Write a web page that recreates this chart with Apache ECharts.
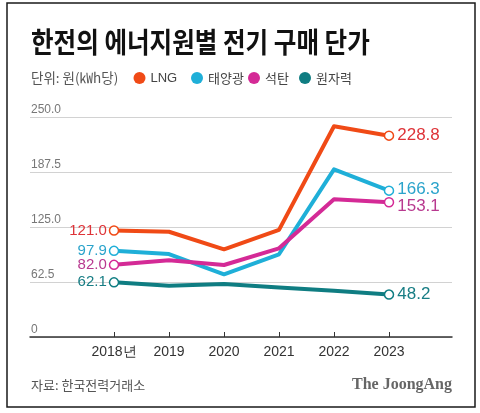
<!DOCTYPE html>
<html>
<head>
<meta charset="utf-8">
<script src="https://cdn.jsdelivr.net/npm/echarts@6/dist/echarts.min.js"></script>
<style>
html,body{margin:0;padding:0;background:#fff;}
#chart{width:480px;height:413px;}
</style>
</head>
<body>
<div id="chart"></div>
<script>
const years = [2018, 2019, 2020, 2021, 2022, 2023];
const xLabels = ['2018년', '2019', '2020', '2021', '2022', '2023'];
const yLabels = ['0', '62.5', '125.0', '187.5', '250.0'];
const seriesNames = ['LNG', '태양광', '석탄', '원자력'];
const lng = [121.0, 119.6, 99.6, 121.8, 239.5, 228.8];
const solar = [97.9, 94.2, 71.2, 94.0, 190.5, 166.3];
const coal = [82.0, 87.2, 81.8, 100.8, 156.5, 153.1];
const nuclear = [62.1, 58.3, 60.3, 56.2, 52.5, 48.2];
const title = '한전의 에너지원별 전기 구매 단가';
const unitText = '단위: 원(㎾h당)';
const sourceText = '자료: 한국전력거래소';
const logoText = 'The JoongAng';

const lineColors = ['#f04a16', '#1fafd8', '#d42a96', '#0f7d82'];
const labelColors = ['#de3338', '#2aa3cb', '#b8398f', '#177d84'];
const endOffsets = [[0, 0], [0, -1], [0, 4], [0, 0]];
const allValues = [lng, solar, coal, nuclear];

const KR = '"Noto Sans CJK KR", "Noto Sans", sans-serif';
const NUM = '"Liberation Sans", Arial, sans-serif';

function buildSeries(name, values, idx) {
  const last = values.length - 1;
  return {
    name: name,
    type: 'line',
    z: 2 + idx,
    lineStyle: { width: 4, color: lineColors[idx], join: 'round' },
    itemStyle: { color: '#fff', borderColor: lineColors[idx], borderWidth: 1.5 },
    symbol: 'circle',
    symbolSize: 9,
    emphasis: { disabled: true },
    data: values.map((v, i) => {
      const isEnd = (i === 0 || i === last);
      return {
        value: [years[i], v],
        symbol: isEnd ? 'circle' : 'none',
        label: {
          show: isEnd,
          position: i === 0 ? 'left' : 'right',
          distance: i === 0 ? 2 : 3,
          offset: i === 0 ? [0, 0] : endOffsets[idx],
          fontSize: i === 0 ? 15 : 17,
          fontFamily: NUM,
          color: labelColors[idx],
          formatter: (p) => p.value[1].toFixed(1)
        }
      };
    })
  };
}

const legendCenters = [139.5, 197, 254, 305];
const legendGraphics = [];
seriesNames.forEach((n, i) => {
  legendGraphics.push({
    type: 'circle', shape: { cx: legendCenters[i], cy: 78, r: 6 },
    style: { fill: lineColors[i] }
  });
  legendGraphics.push({
    type: 'text', x: legendCenters[i] + 11, y: 78,
    style: { text: n, fill: '#444', font: '13px ' + (i === 0 ? NUM : KR), textVerticalAlign: 'middle', textAlign: 'left' }
  });
});

const chart = echarts.init(document.getElementById('chart'), null, { renderer: 'canvas' });
chart.setOption({
  animation: false,
  backgroundColor: '#fff',
  grid: { left: 30, right: 28, top: 117, bottom: 76, containLabel: false },
  xAxis: {
    type: 'value',
    min: 2018 - 84 / 55,
    max: 2023 + 63 / 55,
    splitLine: { show: false },
    axisLine: { show: true, lineStyle: { color: '#333', width: 1.5 } },
    axisTick: { show: true, inside: true, length: 5, customValues: years, lineStyle: { color: '#333', width: 1 } },
    axisLabel: {
      customValues: years, margin: 8, fontSize: 14, fontFamily: NUM, color: '#333',
      formatter: (v) => xLabels[years.indexOf(Math.round(v))] || ''
    }
  },
  yAxis: {
    type: 'value',
    min: 0, max: 250, interval: 62.5,
    axisLine: { show: false },
    axisTick: { show: false },
    splitLine: { show: true, lineStyle: { color: '#d2d2d2', width: 1 } },
    axisLabel: {
      inside: true, margin: 1, fontSize: 12, fontFamily: NUM, color: '#777',
      verticalAlign: 'bottom', align: 'left', lineHeight: 15,
      formatter: (v) => yLabels[Math.round(v / 62.5)]
    }
  },
  series: seriesNames.map((n, i) => buildSeries(n, allValues[i], i)),
  graphic: [
    { type: 'rect', shape: { x: 7, y: 3, width: 468, height: 404 }, style: { fill: 'none', stroke: '#1a1a1a', lineWidth: 1.5 }, silent: true },
    { type: 'text', x: 31, y: 42, scaleX: 0.91, scaleY: 1.05, style: { text: title, fill: '#111', font: 'bold 27px ' + KR, textVerticalAlign: 'middle', textAlign: 'left' } },
    { type: 'text', x: 31, y: 78, style: { text: unitText, fill: '#555', font: '13.5px ' + KR, textVerticalAlign: 'middle', textAlign: 'left' } },
    ...legendGraphics,
    { type: 'text', x: 31, y: 385, style: { text: sourceText, fill: '#555', font: '13px ' + KR, textVerticalAlign: 'middle', textAlign: 'left' } },
    { type: 'text', x: 452, y: 385, style: { text: logoText, fill: '#666', font: 'bold 16px "Liberation Serif", serif', textVerticalAlign: 'middle', textAlign: 'right' } }
  ]
});
</script>
</body>
</html>
